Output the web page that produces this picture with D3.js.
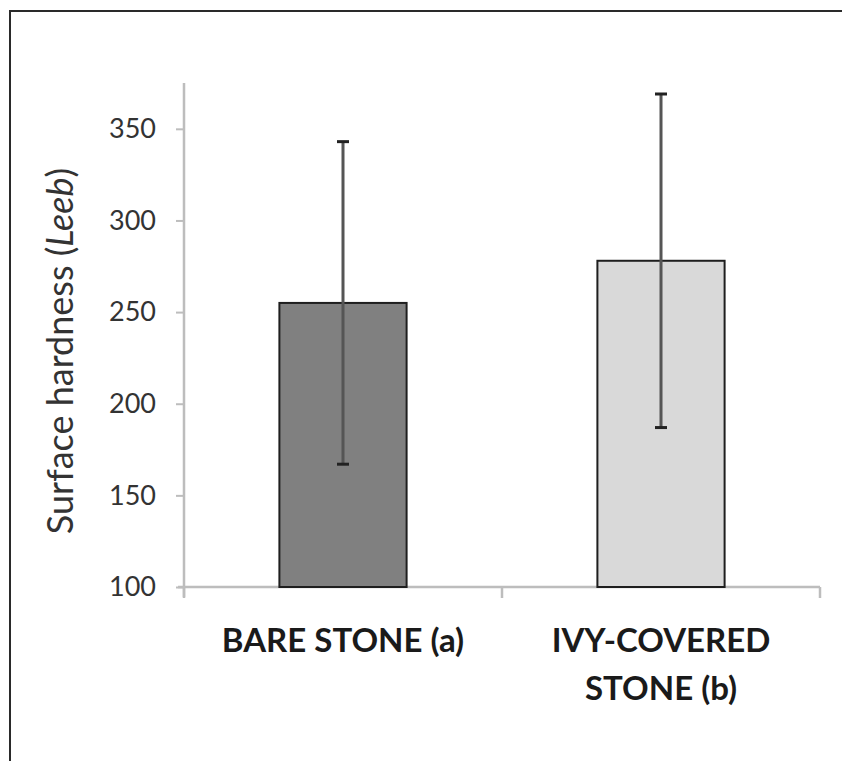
<!DOCTYPE html>
<html>
<head>
<meta charset="utf-8">
<script src="https://cdn.jsdelivr.net/npm/d3@7"></script>
<style>
  html, body { margin: 0; padding: 0; background: #fff; }
  svg { display: block; }
</style>
</head>
<body>
<svg id="chart" width="842" height="761"></svg>
<script>
// Surface hardness means with error bars
const categories = [["BARE STONE (a)"], ["IVY-COVERED", "STONE (b)"]];
const means = [255, 278];
const errors = [88, 91];
const fills = ["#808080", "#d9d9d9"];
const yTicks = [100, 150, 200, 250, 300, 350];

const svg = d3.select("#chart");
const W = 842, H = 761;

// outer frame
svg.append("rect")
  .attr("x", 10).attr("y", 11)
  .attr("width", W + 20).attr("height", H + 20)
  .attr("fill", "#fff")
  .attr("stroke", "#2a2a2a").attr("stroke-width", 2);

const plotL = 184, plotR = 820, plotT = 83, plotB = 587;

const x = d3.scaleBand()
  .domain(d3.range(categories.length))
  .range([plotL, plotR])
  .paddingInner(0).paddingOuter(0);

const y = d3.scaleLinear().domain([100, 375]).range([plotB, plotT]);

const fontFam = "Lato, 'Open Sans', 'Liberation Sans', sans-serif";
const axisColor = "#bdbdbd";

// y axis
const yAxis = svg.append("g").attr("transform", `translate(${plotL},0)`)
  .call(d3.axisLeft(y).tickValues(yTicks).tickSize(8).tickSizeOuter(0).tickPadding(20));
yAxis.select(".domain").attr("stroke", axisColor).attr("stroke-width", 2.5)
  .attr("d", `M0,${plotT}V${plotB + 10}`);
yAxis.selectAll(".tick line").attr("stroke", axisColor).attr("stroke-width", 2);
yAxis.selectAll(".tick text")
  .attr("fill", "#333").style("font-family", fontFam).style("font-size", "27px");

// x axis
const xAxis = svg.append("g").attr("transform", `translate(0,${plotB})`);
xAxis.append("line")
  .attr("x1", plotL - 6).attr("x2", plotR)
  .attr("y1", 0).attr("y2", 0)
  .attr("stroke", axisColor).attr("stroke-width", 2.5);
const boundaries = [plotL, ...d3.range(1, categories.length).map(i => x(i)), plotR];
xAxis.selectAll("line.sep").data(boundaries).join("line")
  .attr("class", "sep")
  .attr("x1", d => d).attr("x2", d => d)
  .attr("y1", 0).attr("y2", 11)
  .attr("stroke", axisColor).attr("stroke-width", 2.5);

// bars
const barW = x.bandwidth() * 0.4;
svg.selectAll("rect.bar").data(means).join("rect")
  .attr("class", "bar")
  .attr("x", (d, i) => x(i) + x.bandwidth() / 2 - barW / 2)
  .attr("y", d => y(d))
  .attr("width", barW)
  .attr("height", d => y(100) - y(d))
  .attr("fill", (d, i) => fills[i])
  .attr("stroke", "#1e1e1e").attr("stroke-width", 2);

// error bars
const eb = svg.selectAll("g.err").data(means).join("g").attr("class", "err")
  .attr("transform", (d, i) => `translate(${x(i) + x.bandwidth() / 2},0)`);
eb.append("line")
  .attr("y1", (d, i) => y(d + errors[i]))
  .attr("y2", (d, i) => y(d - errors[i]))
  .attr("stroke", "#555").attr("stroke-width", 3);
eb.append("line")
  .attr("x1", -6).attr("x2", 6)
  .attr("y1", (d, i) => y(d + errors[i])).attr("y2", (d, i) => y(d + errors[i]))
  .attr("stroke", "#222").attr("stroke-width", 3);
eb.append("line")
  .attr("x1", -6).attr("x2", 6)
  .attr("y1", (d, i) => y(d - errors[i])).attr("y2", (d, i) => y(d - errors[i]))
  .attr("stroke", "#222").attr("stroke-width", 3);

// category labels
categories.forEach((lines, i) => {
  const cx = x(i) + x.bandwidth() / 2;
  const t = svg.append("text")
    .attr("x", cx)
    .attr("y", 652)
    .attr("text-anchor", "middle")
    .attr("fill", "#1a1a1a")
    .style("font-family", fontFam)
    .style("font-weight", "bold")
    .style("font-size", "33px");
  lines.forEach((ln, j) => {
    t.append("tspan").attr("x", cx).attr("dy", j === 0 ? 0 : 48).text(ln);
  });
});

// y axis title
const yt = svg.append("text")
  .attr("transform", `translate(73,351) rotate(-90)`)
  .attr("text-anchor", "middle")
  .attr("fill", "#333")
  .style("font-family", fontFam)
  .style("font-size", "36px");
yt.append("tspan").text("Surface hardness (");
yt.append("tspan").style("font-style", "italic").text("Leeb");
yt.append("tspan").text(")");
</script>
</body>
</html>
